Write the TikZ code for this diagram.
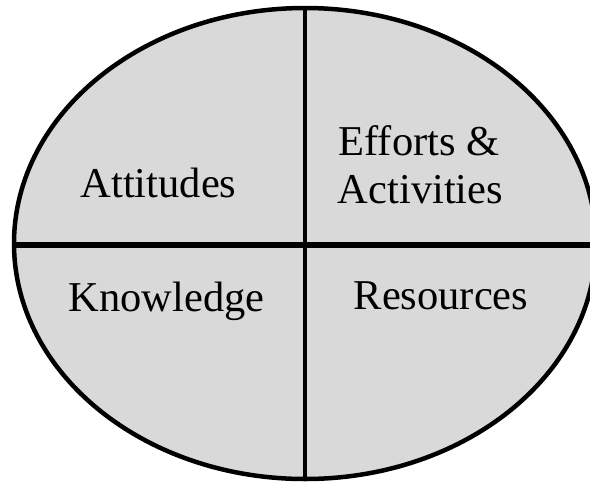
\documentclass[tikz,border=0pt]{standalone}
\usepackage{fontspec}
\setmainfont{Liberation Serif}
\begin{document}
\begin{tikzpicture}[x=1pt,y=-1pt,
  lbl/.style={anchor=base,inner sep=0pt,font=\fontsize{42.5}{48}\selectfont}]
\useasboundingbox (0,0) rectangle (590,483);
\clip (0,0) rectangle (590,483);
\definecolor{cellgray}{HTML}{D9D9D9}
\coordinate (c) at (305,243.5);
\draw[line width=4.5pt,fill=cellgray] (c) ellipse [x radius=291, y radius=235.5];
\coordinate (top) at (305,8);
\coordinate (bot) at (305,479);
\coordinate (left) at (14,245);
\coordinate (right) at (592,245);
\draw[line width=4.5pt] (top) -- (bot);
\draw[line width=6pt] (left) -- (right);
\node[lbl] (att) at (158.5,197) {Attitudes};
\node[lbl] (eff) at (419,155) {Efforts \&};
\node[lbl] (act) at (420.5,203) {Activities};
\node[lbl] (kno) at (166.5,311) {Knowledge};
\node[lbl] (res) at (441,309) {Resources};
\end{tikzpicture}
\end{document}
